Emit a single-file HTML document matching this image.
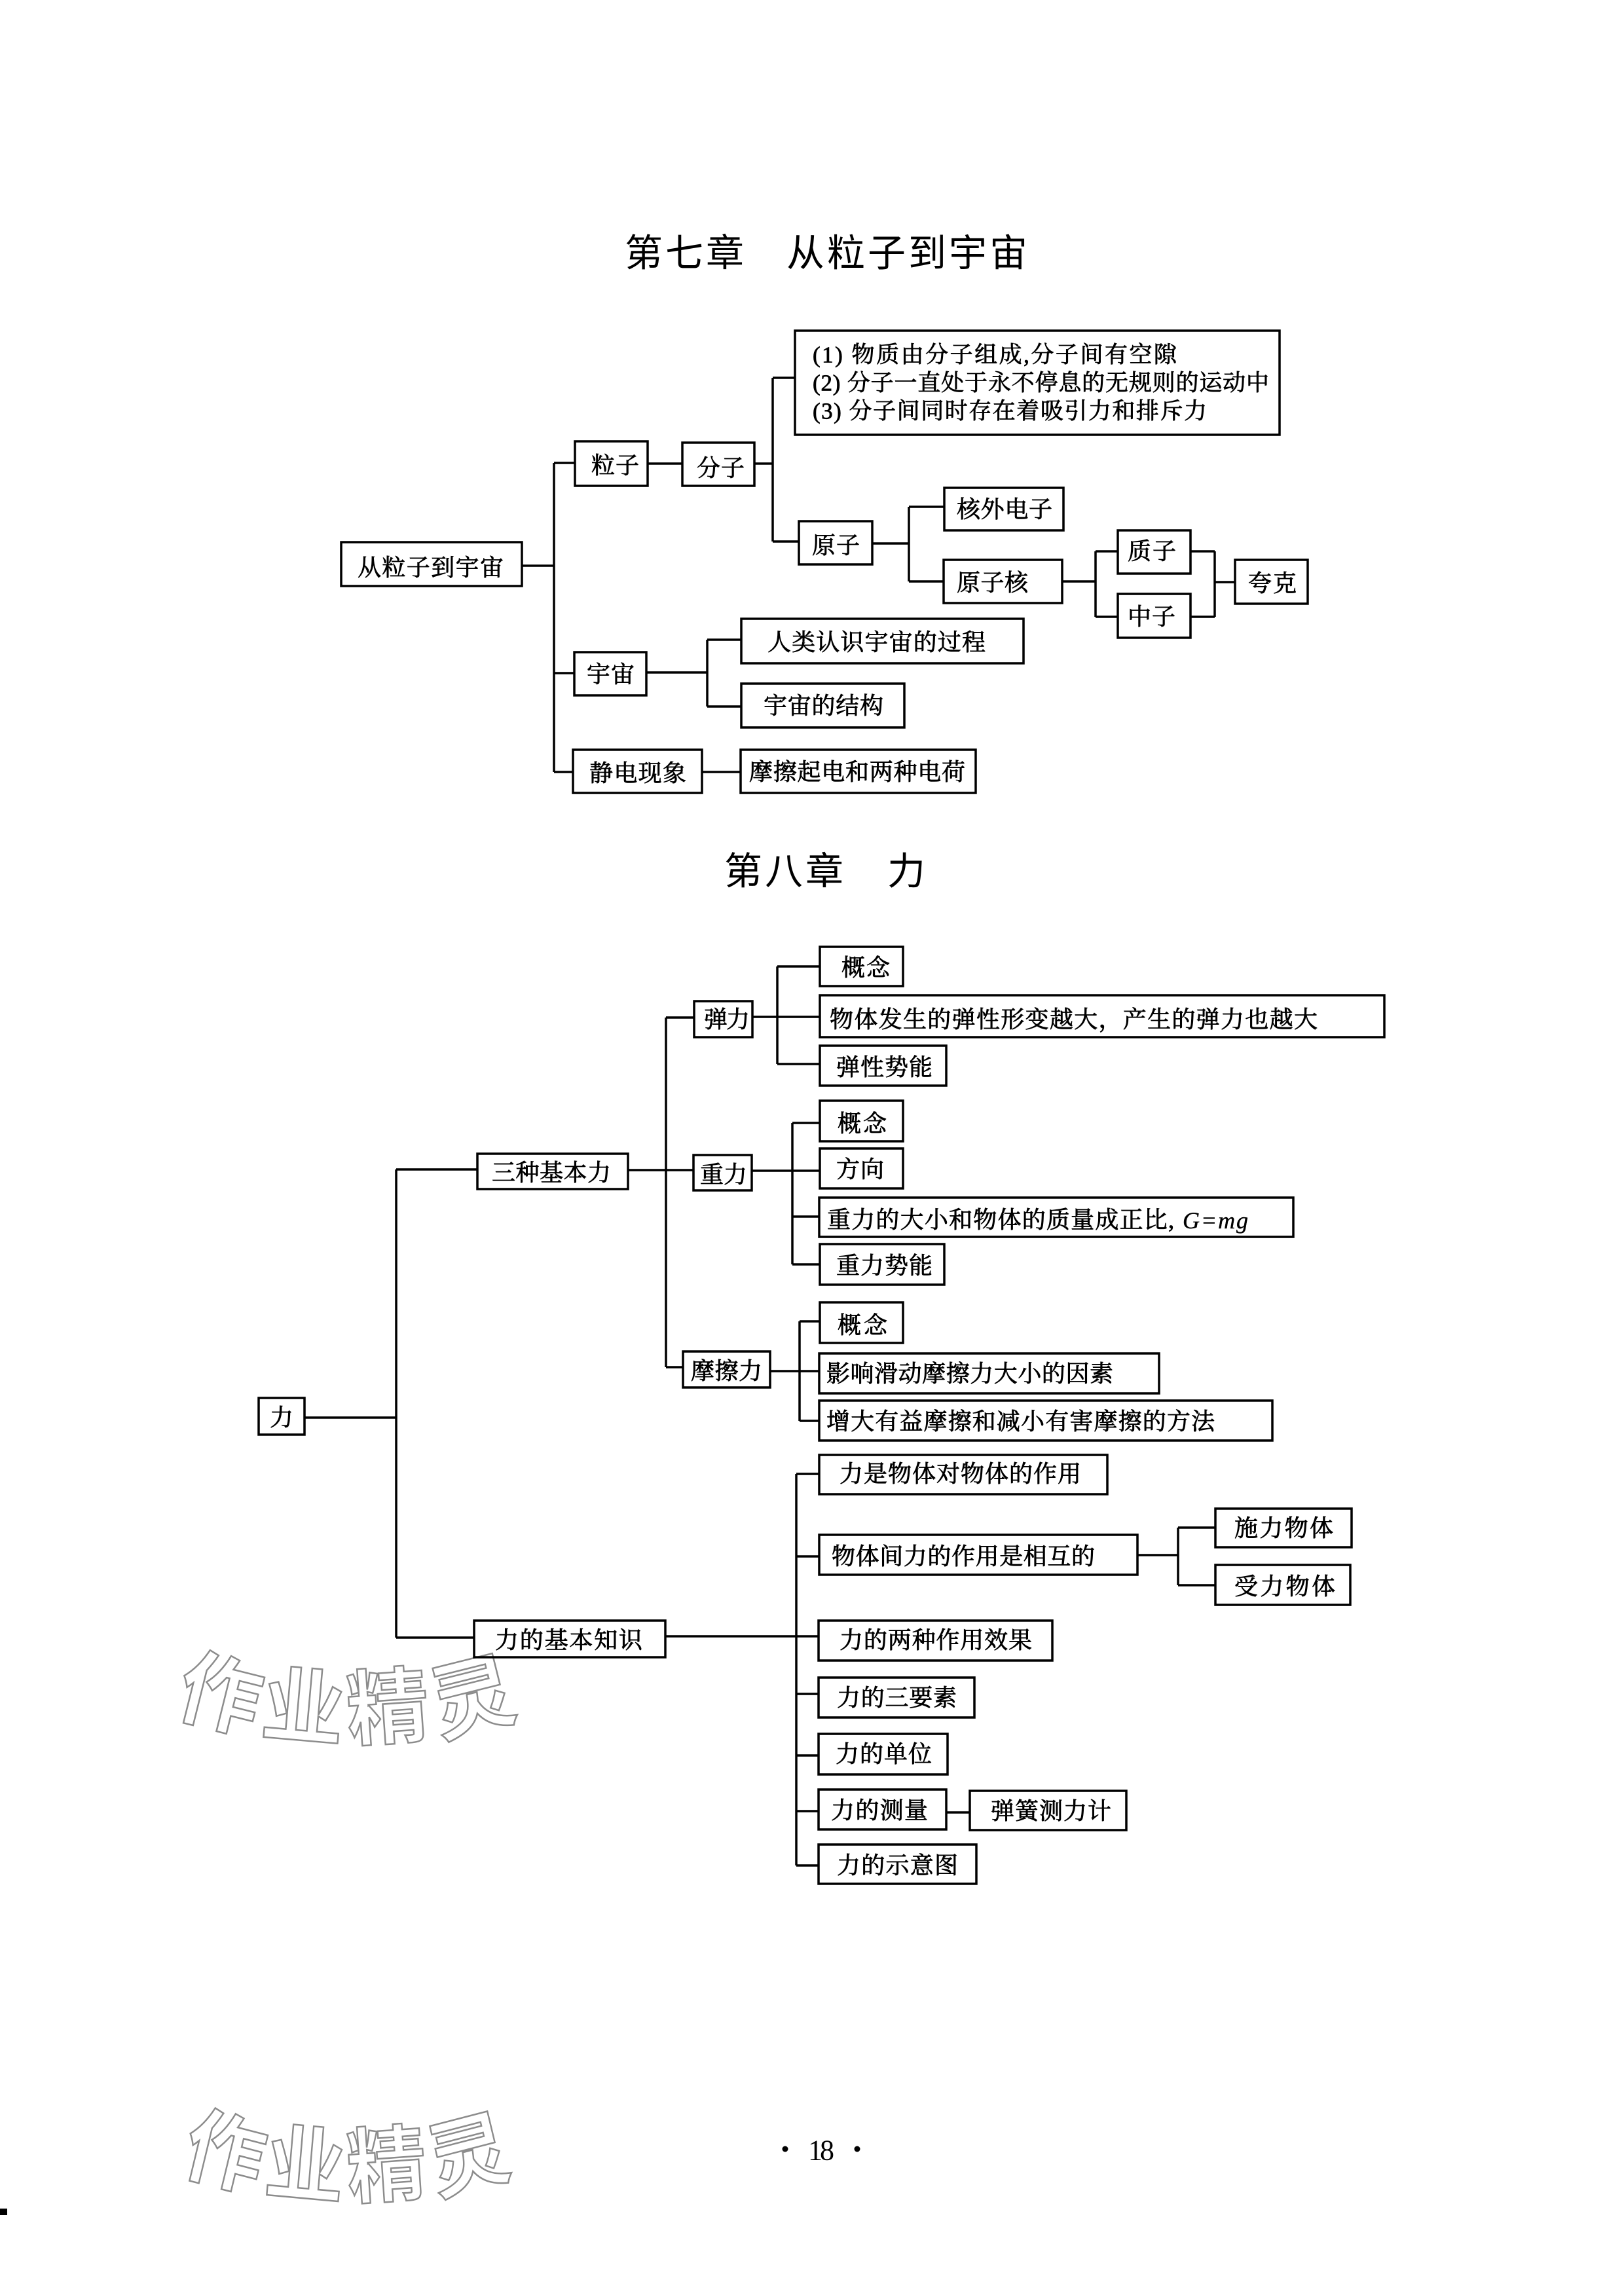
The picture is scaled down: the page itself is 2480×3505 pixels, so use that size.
<!DOCTYPE html>
<html><head><meta charset="utf-8"><style>
html,body{margin:0;padding:0;background:#fff}
svg{display:block}
text{font-family:"Liberation Serif","Noto Serif CJK SC",serif;font-size:36px;fill:#000;dominant-baseline:central;stroke:#000;stroke-width:.8px}
.t{font-family:"Liberation Sans","Noto Sans CJK SC",sans-serif;font-size:58px;letter-spacing:4px;stroke:none}
.w{font-family:"Liberation Sans","Noto Sans CJK SC",sans-serif;font-weight:700;font-size:126px;fill:#fff;stroke:#8c8c8c;stroke-width:2.5px;text-anchor:middle}
.b rect{fill:none;stroke:#000;stroke-width:3.5px}
.l{fill:none;stroke:#000;stroke-width:3.5px}
</style></head><body>
<svg xmlns="http://www.w3.org/2000/svg" width="2480" height="3505" viewBox="0 0 2480 3505">
<rect width="2480" height="3505" fill="#fff"/>
<rect x="0" y="3373" width="11" height="10" fill="#000"/>
<g id="wm1">
<text class="w" transform="translate(336,2589) rotate(14)" x="0" y="0">作</text>
<text class="w" transform="translate(463,2609) rotate(5)" x="0" y="0">业</text>
<text class="w" transform="translate(592,2609) rotate(-4)" x="0" y="0">精</text>
<text class="w" transform="translate(722,2594) rotate(-14)" x="0" y="0">灵</text>
</g>
<g transform="translate(19,700) scale(.965,1)">
<text class="w" transform="translate(336,2589) rotate(14)" x="0" y="0">作</text>
<text class="w" transform="translate(463,2609) rotate(5)" x="0" y="0">业</text>
<text class="w" transform="translate(592,2609) rotate(-4)" x="0" y="0">精</text>
<text class="w" transform="translate(722,2594) rotate(-14)" x="0" y="0">灵</text>
</g>
<path class="l" d="M798 864H846M846 707V1179M846 707H877M846 1028H876M846 1179H874M990 708H1041M1153 708H1180M1180 577V827M1180 577H1213M1180 827H1219M1333 830H1388M1388 774V888M1388 774H1441M1388 888H1440M1623 888H1673M1673 842V942M1673 842H1706M1673 942H1706M1819 842H1855M1819 942H1855M1855 842V942M1855 889H1885M988 1027H1080M1080 977V1079M1080 977H1131M1080 1079H1131M1073 1179H1130"/>
<path class="l" d="M466 2165H605M605 1786V2501M605 1786H728M605 2501H723M960 1787H1058M1017 1554V2088M1017 1554H1059M1017 2088H1042M1150 1553H1251M1187 1476V1625M1187 1476H1251M1187 1625H1251M1149 1788H1251M1210 1715V1931M1210 1715H1251M1210 1858H1250M1210 1931H1251M1177 2094H1250M1221 2018V2170M1221 2018H1251M1221 2170H1250"/>
<path class="l" d="M1017 2499H1249M1216 2251V2849M1216 2251H1250M1216 2377H1250M1216 2587H1249M1216 2681H1249M1216 2766H1249M1216 2849H1249M1738 2375H1799M1799 2333V2421M1799 2333H1855M1799 2421H1855M1446 2768H1480"/>
<g class="b">
<rect x="521" y="828" width="276" height="67"/>
<rect x="878" y="674" width="111" height="68"/>
<rect x="1042" y="676" width="110" height="66"/>
<rect x="1214" y="505" width="740" height="159"/>
<rect x="1220" y="796" width="112" height="66"/>
<rect x="1442" y="745" width="182" height="65"/>
<rect x="1441" y="855" width="181" height="66"/>
<rect x="1707" y="810" width="111" height="66"/>
<rect x="1707" y="907" width="111" height="67"/>
<rect x="1886" y="855" width="111" height="67"/>
<rect x="1132" y="945" width="431" height="68"/>
<rect x="1132" y="1044" width="249" height="67"/>
<rect x="877" y="996" width="110" height="66"/>
<rect x="875" y="1145" width="197" height="66"/>
<rect x="1131" y="1145" width="359" height="66"/>
<rect x="1060" y="1529" width="89" height="55"/>
<rect x="1252" y="1446" width="127" height="60"/>
<rect x="1252" y="1520" width="862" height="64"/>
<rect x="1252" y="1597" width="193" height="61"/>
<rect x="1252" y="1681" width="127" height="62"/>
<rect x="1252" y="1754" width="127" height="61"/>
<rect x="1251" y="1829" width="724" height="60"/>
<rect x="1252" y="1900" width="190" height="62"/>
<rect x="1252" y="1989" width="127" height="62"/>
<rect x="1251" y="2067" width="519" height="61"/>
<rect x="1251" y="2139" width="692" height="61"/>
<rect x="729" y="1762" width="230" height="54"/>
<rect x="1059" y="1764" width="89" height="54"/>
<rect x="1043" y="2064" width="133" height="55"/>
<rect x="395" y="2135" width="70" height="56"/>
<rect x="724" y="2475" width="292" height="56"/>
<rect x="1251" y="2222" width="440" height="60"/>
<rect x="1251" y="2344" width="486" height="61"/>
<rect x="1856" y="2304" width="208" height="59"/>
<rect x="1856" y="2390" width="206" height="61"/>
<rect x="1250" y="2475" width="357" height="61"/>
<rect x="1250" y="2562" width="238" height="61"/>
<rect x="1250" y="2648" width="197" height="62"/>
<rect x="1250" y="2733" width="195" height="61"/>
<rect x="1481" y="2735" width="239" height="60"/>
<rect x="1250" y="2817" width="241" height="60"/>
</g>
<text class="t" x="954" y="387">第七章</text>
<text class="t" x="1201" y="387">从粒子到宇宙</text>
<text class="t" x="1106" y="1331">第八章</text>
<text class="t" x="1355" y="1331">力</text>
<text x="546" y="867" textLength="223">从粒子到宇宙</text>
<text x="903" y="711" textLength="73">粒子</text>
<text x="1064" y="715" textLength="73">分子</text>
<text x="1241" y="542" style="font-size:35px" textLength="556">(1) 物质由分子组成,分子间有空隙</text>
<text x="1241" y="585" style="font-size:35px" textLength="697">(2) 分子一直处于永不停息的无规则的运动中</text>
<text x="1241" y="628" style="font-size:35px" textLength="602">(3) 分子间同时存在着吸引力和排斥力</text>
<text x="1240" y="833" textLength="73">原子</text>
<text x="1461" y="778" textLength="146">核外电子</text>
<text x="1461" y="890" textLength="109">原子核</text>
<text x="1722" y="842" textLength="74">质子</text>
<text x="1722" y="942" textLength="73">中子</text>
<text x="1906" y="891" textLength="74">夸克</text>
<text x="1172" y="981" textLength="333">人类认识宇宙的过程</text>
<text x="1166" y="1078" textLength="183">宇宙的结构</text>
<text x="896" y="1030" textLength="73">宇宙</text>
<text x="900" y="1181" textLength="148">静电现象</text>
<text x="1144" y="1179" textLength="330">摩擦起电和两种电荷</text>
<text x="1285" y="1478" textLength="74">概念</text>
<text x="1267" y="1557" textLength="745">物体发生的弹性形变越大&#xFF0C;产生的弹力也越大</text>
<text x="1277" y="1630" textLength="147">弹性势能</text>
<text x="1279" y="1716" textLength="75">概念</text>
<text x="1277" y="1786" textLength="73">方向</text>
<text x="1263" y="1863" textLength="530">重力的大小和物体的质量成正比,</text>
<text x="1806" y="1864" font-style="italic" textLength="100" style="stroke-width:.4px">G=mg</text>
<text x="1277" y="1933" textLength="147">重力势能</text>
<text x="1279" y="2024" textLength="76">概念</text>
<text x="1262" y="2098" textLength="438">影响滑动摩擦力大小的因素</text>
<text x="1262" y="2171" textLength="593">增大有益摩擦和减小有害摩擦的方法</text>
<text x="751" y="1791" textLength="182">三种基本力</text>
<text x="1075" y="1557" textLength="70">弹力</text>
<text x="1069" y="1794" textLength="72">重力</text>
<text x="1055" y="2094" textLength="109">摩擦力</text>
<text x="412" y="2165">力</text>
<text x="756" y="2505" textLength="225">力的基本知识</text>
<text x="1282" y="2251" textLength="369">力是物体对物体的作用</text>
<text x="1270" y="2377" textLength="402">物体间力的作用是相互的</text>
<text x="1885" y="2334" textLength="151">施力物体</text>
<text x="1885" y="2423" textLength="154">受力物体</text>
<text x="1282" y="2505" textLength="294">力的两种作用效果</text>
<text x="1278" y="2593" textLength="183">力的三要素</text>
<text x="1276" y="2679" textLength="147">力的单位</text>
<text x="1269" y="2765" textLength="148">力的测量</text>
<text x="1513" y="2766" textLength="184">弹簧测力计</text>
<text x="1278" y="2849" textLength="185">力的示意图</text>
<text x="1234" y="3284" textLength="40" style="font-size:44px;stroke:none">18</text>
<circle cx="1199" cy="3282" r="4.5" fill="#000"/>
<circle cx="1309" cy="3282" r="4.5" fill="#000"/>
</svg>
</body></html>
